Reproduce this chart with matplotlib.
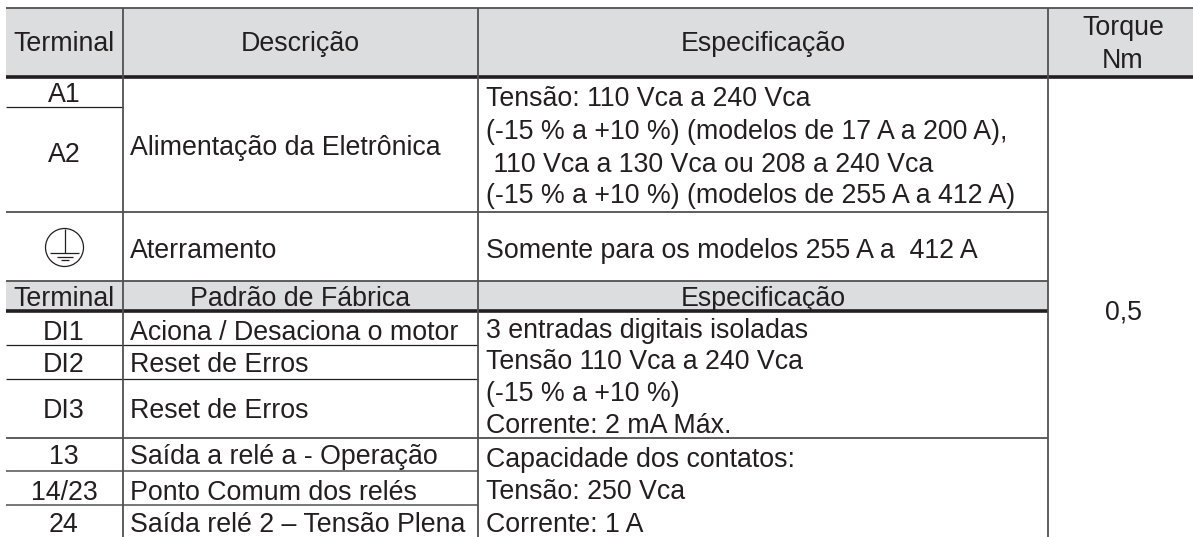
import matplotlib.pyplot as plt
from matplotlib.patches import Circle, Rectangle

# table texts
header_main = ['Terminal', 'Descrição', 'Especificação']
header_torque = ['Torque', 'Nm']
header_sub = ['Terminal', 'Padrão de Fábrica', 'Especificação']
terminals = ['A1', 'A2', 'DI1', 'DI2', 'DI3', '13', '14/23', '24']
descriptions = ['Alimentação da Eletrônica', 'Aterramento', 'Aciona / Desaciona o motor', 'Reset de Erros',
                'Reset de Erros', 'Saída a relé a - Operação', 'Ponto Comum dos relés', 'Saída relé 2 – Tensão Plena']
spec_power = ['Tensão: 110 Vca a 240 Vca', '(-15 % a +10 %) (modelos de 17 A a 200 A),',
              ' 110 Vca a 130 Vca ou 208 a 240 Vca', '(-15 % a +10 %) (modelos de 255 A a 412 A)']
spec_ground = ['Somente para os modelos 255 A a  412 A']
spec_inputs = ['3 entradas digitais isoladas', 'Tensão 110 Vca a 240 Vca', '(-15 % a +10 %)', 'Corrente: 2 mA Máx.']
spec_relays = ['Capacidade dos contatos:', 'Tensão: 250 Vca', 'Corrente: 1 A']
torque = '0,5'

# layout, in image pixels
W, H = 1193, 537
x_left, x_c1, x_c2, x_c3 = 6, 122.5, 478, 1048
center_c1, center_c2, center_c3, center_c4 = 64, 300, 763, 1123
desc_x, spec_x = 130, 486
y_head_top, y_head_bot = 8, 76.5
y_ground_top, y_ground_bot = 212, 280.7
y_sub_bot = 311
# thin rules of the first column block and of the second one
rules_c1 = [106.5]
rules_c12 = [345, 378.5]
rules_c12_gray = [471, 505]
y_inputs_bot = 437.5

base_terminals = [102.3, 161.5, 339.8, 372.5, 417.5, 463.8, 499.8, 531.5]
base_desc = [154.8, 257.5, 339.8, 372.5, 417.5, 463.8, 499.8, 531.5]
base_power = [106.5, 138.8, 171.5, 203.3]
base_ground = [257.5]
base_inputs = [337.5, 369.3, 401.3, 433.3]
base_relays = [466.8, 498.8, 531.5]

dark = '#231f20'
gray = '#505153'
fill = '#dcddde'
fs = 19.25

plt.rcParams['font.family'] = ['Liberation Sans', 'DejaVu Sans']

fig = plt.figure(figsize=(W / 100, H / 100), dpi=100)
ax = fig.add_axes([0, 0, 1, 1])
ax.set_xlim(0, W)
ax.set_ylim(H, 0)
ax.axis('off')


def txt(x, y, s, ha='left'):
    ax.text(x, y, s, ha=ha, va='baseline', fontsize=fs, color=dark)


# header bands
ax.add_patch(Rectangle((x_left, y_head_top), W - x_left, y_head_bot - y_head_top, fc=fill, ec='none', zorder=0))
ax.add_patch(Rectangle((x_left, y_ground_bot), x_c3 - x_left, y_sub_bot - y_ground_bot, fc=fill, ec='none', zorder=0))

# horizontal rules
ax.hlines(y_head_top, x_left, W, color=gray, lw=1.3)
ax.hlines(y_head_bot, x_left, W, color=dark, lw=2.6)
ax.hlines(y_sub_bot, x_left, x_c3, color=dark, lw=2.6)
ax.hlines(rules_c1, x_left, x_c1, color=dark, lw=0.9)
ax.hlines(y_ground_top, x_left, x_c3, color=gray, lw=1.3)
ax.hlines(y_ground_bot, x_left, x_c3, color=gray, lw=1.3)
ax.hlines(rules_c12, x_left, x_c2, color=dark, lw=0.9)
ax.hlines(rules_c12_gray, x_left, x_c2, color=gray, lw=1.1)
ax.hlines(y_inputs_bot, x_left, x_c3, color=gray, lw=1.3)

# vertical rules
ax.vlines([x_c1, x_c2], y_head_top, H, color=gray, lw=1.3)
ax.vlines(x_c3, y_head_top, H, color=gray, lw=1.3)

# headers
for cx, s in zip([center_c1, center_c2, center_c3], header_main):
    txt(cx, 51, s, ha='center')
for by, s in zip([35, 67.7], header_torque):
    txt(center_c4, by, s, ha='center')
for cx, s in zip([center_c1, center_c2, center_c3], header_sub):
    txt(cx, 305.5, s, ha='center')

# body
for by, s in zip(base_terminals, terminals):
    txt(center_c1, by, s, ha='center')
for by, s in zip(base_desc, descriptions):
    txt(desc_x, by, s)
for lines, bases in [(spec_power, base_power), (spec_ground, base_ground),
                     (spec_inputs, base_inputs), (spec_relays, base_relays)]:
    for by, s in zip(bases, lines):
        txt(spec_x, by, s)
txt(center_c4, 319.5, torque, ha='center')

# ground symbol
gx, gy = 64.5, 247.5
ax.add_patch(Circle((gx, gy), 19, fc='none', ec=dark, lw=0.9))
ax.vlines(gx, gy - 19, 253, color=dark, lw=0.9)
ax.hlines(253, gx - 14.5, gx + 14.5, color=dark, lw=0.9)
ax.hlines(256.7, gx - 8, gx + 8, color=dark, lw=0.9)
ax.hlines(260, gx - 4, gx + 4, color=dark, lw=0.9)

fig.savefig('out.png', dpi=100)
